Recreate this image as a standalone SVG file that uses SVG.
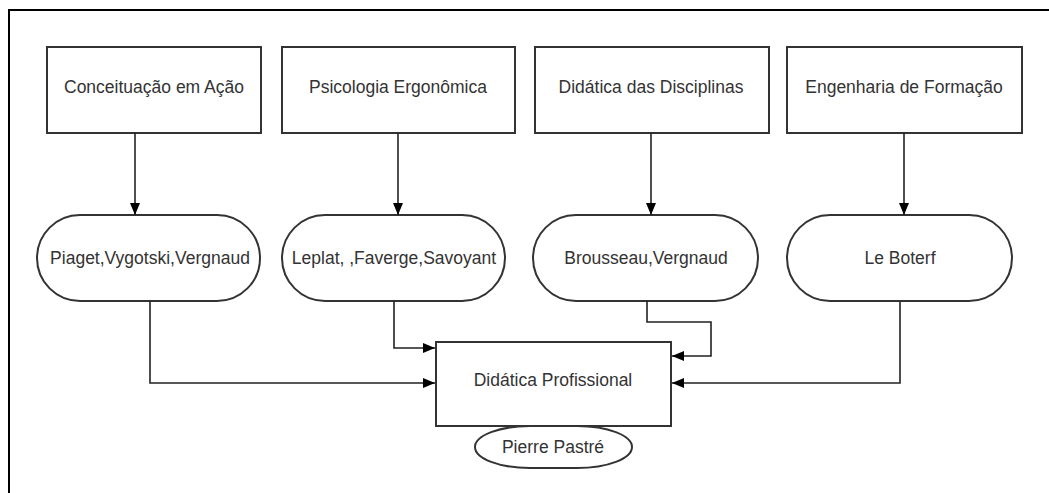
<svg xmlns="http://www.w3.org/2000/svg" width="1049" height="493" viewBox="0 0 1049 493">
<style>
.box{fill:#fff;stroke:#333;stroke-width:2}
.frame{fill:none;stroke:#000;stroke-width:2}
.t{font-family:"Liberation Sans",Arial,sans-serif;font-size:17.5px;fill:#333;text-anchor:middle}
.c{fill:none;stroke:#222;stroke-width:1.6}
</style>
<defs>
<marker id="ah" viewBox="0 0 12 10" refX="12" refY="5" markerWidth="12" markerHeight="10" markerUnits="userSpaceOnUse" orient="auto">
<path d="M0,0 L12,5 L0,10 Z" fill="#000"/>
</marker>
</defs>
<rect width="1049" height="493" fill="#fff"/>
<path class="frame" d="M9,493 V10 H1049"/>
<g id="n1"><rect class="box" x="47" y="47" width="214" height="86"/><text class="t" x="154" y="93">Conceituação em Ação</text></g>
<g id="n2"><rect class="box" x="282" y="47" width="233" height="86"/><text class="t" x="398" y="93">Psicologia Ergonômica</text></g>
<g id="n3"><rect class="box" x="535" y="47" width="234" height="86"/><text class="t" x="651" y="93">Didática das Disciplinas</text></g>
<g id="n4"><rect class="box" x="787" y="47" width="235" height="86"/><text class="t" x="904" y="93">Engenharia de Formação</text></g>
<g id="p1"><rect class="box" x="37" y="215" width="223" height="86" rx="43" ry="43"/><text class="t" x="150" y="264">Piaget,Vygotski,Vergnaud</text></g>
<g id="p2"><rect class="box" x="282" y="215" width="223" height="86" rx="43" ry="43"/><text class="t" x="394" y="264">Leplat, ,Faverge,Savoyant</text></g>
<g id="p3"><rect class="box" x="533" y="215" width="225" height="86" rx="43" ry="43"/><text class="t" x="646" y="264">Brousseau,Vergnaud</text></g>
<g id="p4"><rect class="box" x="787" y="215" width="225" height="86" rx="43" ry="43"/><text class="t" x="900" y="264">Le Boterf</text></g>
<g id="center"><rect class="box" x="436" y="342" width="235" height="84"/><text class="t" x="553" y="386">Didática Profissional</text></g>
<g id="pierre"><rect class="box" x="475" y="426" width="157" height="42" rx="55" ry="21"/><text class="t" x="553" y="453">Pierre Pastré</text></g>
<g id="connectors">
<path class="c" d="M135,133 V215" marker-end="url(#ah)"/>
<path class="c" d="M398,133 V215" marker-end="url(#ah)"/>
<path class="c" d="M651,133 V215" marker-end="url(#ah)"/>
<path class="c" d="M904,133 V215" marker-end="url(#ah)"/>
<path class="c" d="M150,301 V383 H435" marker-end="url(#ah)"/>
<path class="c" d="M394,301 V348 H435" marker-end="url(#ah)"/>
<path class="c" d="M647,301 V322 H711 V356 H672" marker-end="url(#ah)"/>
<path class="c" d="M900,302 V383 H672" marker-end="url(#ah)"/>
</g>
</svg>
